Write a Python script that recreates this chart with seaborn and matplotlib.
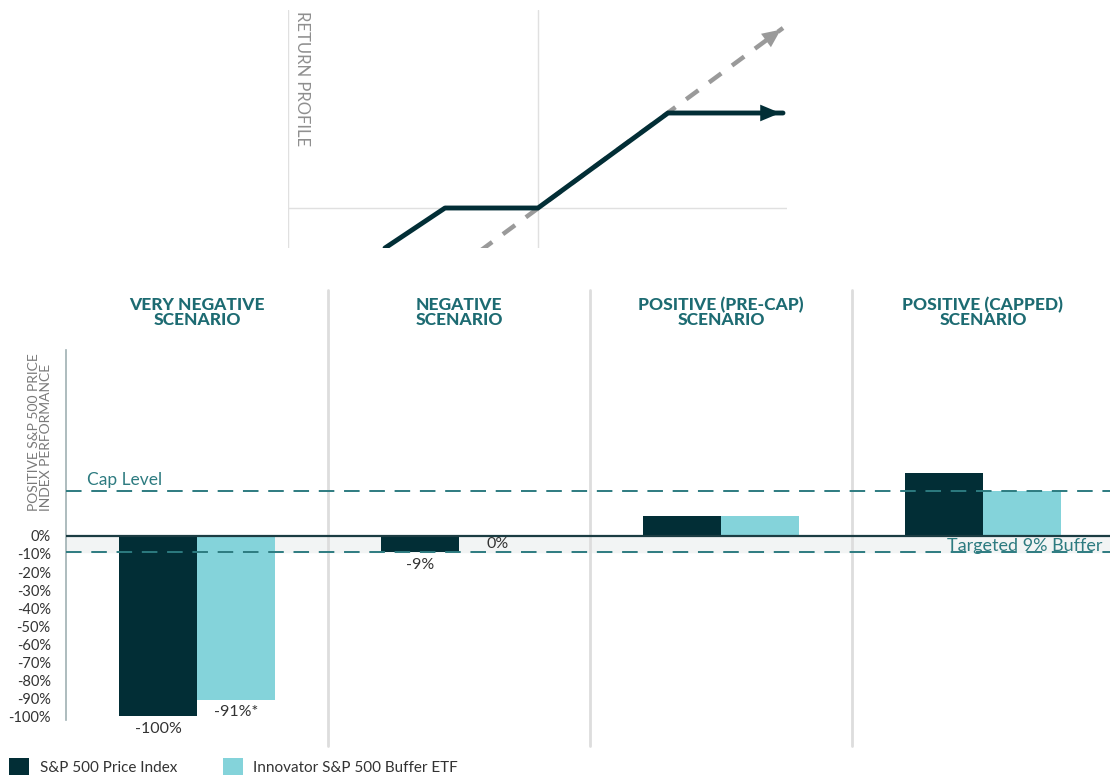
import matplotlib
matplotlib.use("Agg")
import matplotlib.pyplot as plt
import matplotlib.transforms as mtransforms
from matplotlib.patches import Patch
import seaborn as sns
import pandas as pd

# ---------------- data ----------------
scenarios = ["VERY NEGATIVE\nSCENARIO", "NEGATIVE\nSCENARIO",
             "POSITIVE (PRE-CAP)\nSCENARIO", "POSITIVE (CAPPED)\nSCENARIO"]
series_names = ["S&P 500 Price Index", "Innovator S&P 500 Buffer ETF"]
sp500_values = [-100, -9, 11, 35]
etf_values = [-91, 0, 11, 25]
sp500_labels = ["-100%", "-9%", "", ""]
etf_labels = ["-91%*", "0%", "", ""]
cap_level = 25
buffer_level = -9
yticks = [0, -10, -20, -30, -40, -50, -60, -70, -80, -90, -100]
ytick_labels = [f"{v}%" for v in yticks]

# return-profile schematic (arbitrary units)
profile_x_fund = [-15.3, -9.3, 0, 13.0, 24.5]
profile_y_fund = [-4.0, 0, 0, 9.5, 9.5]
profile_x_index = [-5.8, 24.5]
profile_y_index = [-4.3, 18.0]

# ---------------- style ----------------
sns.set_theme(style="white")
plt.rcParams["font.family"] = ["Lato", "DejaVu Sans"]

DARK = "#022e36"
LIGHT = "#84d3da"
TEAL = "#2d7b80"
HEAD = "#1d6b72"
GRAY_TXT = "#7a7a7a"
SEP = "#dddddd"

W, H = 1110, 775
fig = plt.figure(figsize=(W / 100, H / 100), dpi=100)

# ---------------- main bar chart ----------------
ax_l, ax_r, ax_top, ax_bot = 66, 1110, 350, 720
ax = fig.add_axes([ax_l / W, (H - ax_bot) / H, (ax_r - ax_l) / W, (ax_bot - ax_top) / H])

df = pd.DataFrame({
    "scenario": scenarios * 2,
    "series": [series_names[0]] * 4 + [series_names[1]] * 4,
    "value": sp500_values + etf_values,
})
sns.barplot(data=df, x="scenario", y="value", hue="series",
            palette=[DARK, LIGHT], width=0.595, saturation=1,
            legend=False, ax=ax, edgecolor="none", zorder=3)

ax.set_xlim(-0.5, -0.5 + (ax_r - ax_l) / 262)
ax.set_ylim(-102.2, 103.3)

ax.axhspan(buffer_level, 0, color="#f2f4f4", zorder=0)
ax.axhline(0, color="#1b3c42", lw=1.6, zorder=4)
ax.axhline(cap_level, color=TEAL, lw=1.4, ls=(0, (8, 5)), zorder=5)
ax.axhline(buffer_level, color=TEAL, lw=1.4, ls=(0, (8, 5)), zorder=5)

ax.set_yticks(yticks)
ax.set_yticklabels(ytick_labels, fontsize=10.5, color="#333333")
ax.tick_params(axis="y", length=0, pad=11)
ax.set_xticks([])
ax.set_xlabel("")
ax.set_ylabel("")
for s in ["top", "right", "bottom"]:
    ax.spines[s].set_visible(False)
ax.spines["left"].set_color("#9fb0b3")
ax.spines["left"].set_linewidth(1.2)

# headers and separators
blend = mtransforms.blended_transform_factory(ax.transData, ax.transAxes)
for i, name in enumerate(scenarios):
    ax.text(i, (ax_bot - 297) / (ax_bot - ax_top), name, transform=blend,
            ha="center", va="top", fontsize=12.5, fontweight="black",
            color=HEAD, linespacing=0.9)
for i in range(len(scenarios) - 1):
    ax.plot([i + 0.5, i + 0.5], [(ax_bot - 290) / (ax_bot - ax_top), (ax_bot - 746) / (ax_bot - ax_top)],
            transform=blend, color=SEP, lw=2, clip_on=False, zorder=1)

# bar labels
for cont, labels in zip(ax.containers, [sp500_labels, etf_labels]):
    for bar, lab in zip(cont, labels):
        if not lab:
            continue
        bottom = bar.get_y() + min(bar.get_height(), 0)
        off = -1 if bar.get_height() == 0 else -4
        ax.annotate(lab, (bar.get_x() + bar.get_width() / 2, bottom),
                    xytext=(0, off), textcoords="offset points", ha="center", va="top",
                    fontsize=11.5, color="#333333", zorder=6)

ax.text(-0.42, cap_level + 1.8, "Cap Level", fontsize=12.5, color=TEAL, ha="left", va="bottom")
ax.text(3.455, buffer_level + 0.6, "Targeted 9% Buffer", fontsize=13, color=TEAL, ha="right",
        va="baseline")

fig.text(28 / W, (H - 432) / H, "POSITIVE S&P 500 PRICE\nINDEX PERFORMANCE", rotation=90,
         ha="left", va="center", fontsize=10, color=GRAY_TXT, linespacing=0.95)

# legend
handles = [Patch(facecolor=DARK, edgecolor="none"), Patch(facecolor=LIGHT, edgecolor="none")]
fig.legend(handles, series_names, loc="lower left", bbox_to_anchor=(0.0, -0.012), ncol=2,
           frameon=False, fontsize=11, handlelength=1.3, handleheight=1.3,
           handletextpad=0.7, columnspacing=3.0, borderaxespad=0.2,
           labelcolor="#333333")

# ---------------- return-profile inset ----------------
in_l, in_r, in_t, in_b = 288, 787, 10, 248
ax2 = fig.add_axes([in_l / W, (H - in_b) / H, (in_r - in_l) / W, (in_b - in_t) / H])
ax2.set_xlim(-25.0, 24.9)
ax2.set_ylim(-4.0, 19.8)
ax2.axis("off")
ax2.axvline(-25.0, color="#e0e0e0", lw=1)
ax2.axvline(0, color="#e0e0e0", lw=1)
ax2.axhline(0, color="#e0e0e0", lw=1)

ax2.plot(profile_x_index, profile_y_index, color="#9a9a9a", lw=3.2, ls=(0, (3.4, 3.0)),
         zorder=2, solid_capstyle="butt")
ax2.annotate("", xy=(profile_x_index[-1], profile_y_index[-1]),
             xytext=(profile_x_index[-1] - 1.5, profile_y_index[-1] - 1.1),
             arrowprops=dict(arrowstyle="-|>,head_length=1.1,head_width=0.5",
                             color="#9a9a9a", lw=0), zorder=3)
sns.lineplot(x=profile_x_fund, y=profile_y_fund, sort=False, color=DARK, lw=3.5, ax=ax2, zorder=4)
ax2.annotate("", xy=(profile_x_fund[-1], profile_y_fund[-1]),
             xytext=(profile_x_fund[-1] - 2.0, profile_y_fund[-1]),
             arrowprops=dict(arrowstyle="-|>,head_length=1.2,head_width=0.5",
                             color=DARK, lw=0), zorder=5)
ax2.text(-23.6, 19.7, "RETURN PROFILE", rotation=-90, ha="center", va="top",
         fontsize=12, color="#8f8f8f")

fig.savefig("out.png", dpi=100)
